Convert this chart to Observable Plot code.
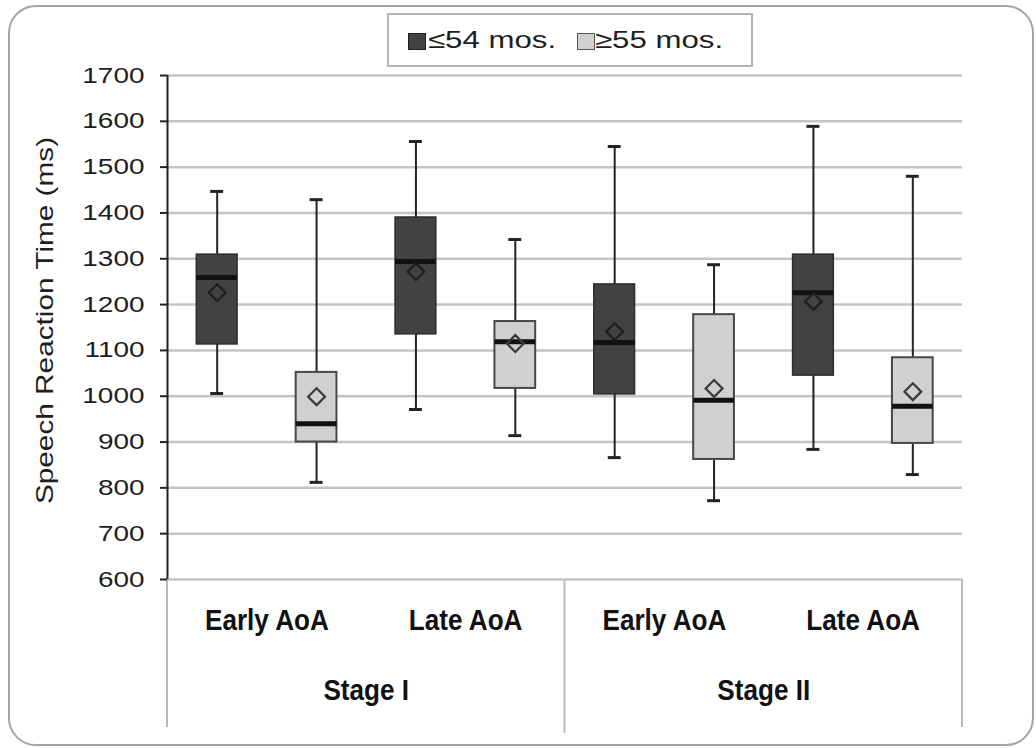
<!DOCTYPE html>
<html>
<head>
<meta charset="utf-8">
<script src="https://cdn.jsdelivr.net/npm/d3@7"></script>
<script src="https://cdn.jsdelivr.net/npm/@observablehq/plot@0.6"></script>
<style>
  html, body { margin: 0; padding: 0; background: #fff; }
  #wrap { position: relative; width: 1036px; height: 748px; overflow: hidden; background: #fff; }
  #wrap svg { position: absolute; left: 0; top: 0; }
  #frame { position: absolute; left: 8px; top: 5px; width: 1026px; height: 741px; box-sizing: border-box;
           border: 2px solid #a4a4a4; border-radius: 28px; background: transparent; pointer-events: none; }
  #legend { position: absolute; left: 387px; top: 13px; width: 366px; height: 54px; box-sizing: border-box;
            border: 2px solid #b4b4b4; background: #fff;
            font-family: "Liberation Sans", Arial, sans-serif; font-size: 24px; color: #1e1e1e; }
  #legend .sw { position: absolute; top: 18px; width: 18px; height: 17px; box-sizing: border-box; }
  #legend .lb { position: absolute; top: 0; height: 50px; line-height: 50px; white-space: nowrap;
                transform: scaleX(1.3); transform-origin: 0 50%; }
</style>
</head>
<body>
<div id="wrap"></div>
<script>
// ---- data ----
const stages = ["Stage I", "Stage II"];
const aoaLevels = ["Early AoA", "Late AoA"];
const groups = ["≤54 mos.", "≥55 mos."];
const yTitle = "Speech Reaction Time (ms)";
const yTicks = [600, 700, 800, 900, 1000, 1100, 1200, 1300, 1400, 1500, 1600, 1700];

// order: Stage I Early (≤54, ≥55), Stage I Late (≤54, ≥55), Stage II Early (...), Stage II Late (...)
const whiskerMax = [1447, 1429, 1556, 1342, 1545, 1287, 1589, 1480];
const q3Values   = [1309, 1052, 1390, 1163, 1244, 1178, 1309, 1084];
const medians    = [1259,  940, 1294, 1119, 1117,  991, 1226,  978];
const means      = [1226,  999, 1272, 1115, 1141, 1017, 1207, 1010];
const q1Values   = [1113,  900, 1135, 1017, 1004,  862, 1045,  897];
const whiskerMin = [1006,  812,  971,  914,  866,  772,  884,  829];

// ---- build table ----
const boxes = [];
stages.forEach((s, si) => aoaLevels.forEach((a, ai) => groups.forEach((g, gi) => {
  const i = boxes.length;
  boxes.push({i, stage: s, aoa: a, group: g, gi,
    lo: whiskerMin[i], q1: q1Values[i], med: medians[i], q3: q3Values[i], hi: whiskerMax[i], mean: means[i]});
})));
const aoaRows = [];
stages.forEach((s, si) => aoaLevels.forEach((a, ai) => aoaRows.push({pos: si * 4 + ai * 2 + 1, label: a})));
const stageRows = stages.map((s, si) => ({pos: si * 4 + 2, label: s}));

const center = d => d.i + 0.5;
const boxL = d => d.i + 0.295, boxR = d => d.i + 0.705;
const capL = d => d.i + 0.435, capR = d => d.i + 0.565;
const dark = boxes.filter(d => d.gi === 0), light = boxes.filter(d => d.gi === 1);
const catFont = "'Liberation Sans', Arial, sans-serif";

const chart = Plot.plot({
  width: 1036, height: 748,
  marginLeft: 167, marginRight: 74, marginTop: 75, marginBottom: 169,
  x: {domain: [0, 8], axis: null},
  y: {domain: [600, 1700], axis: null},
  style: {fontFamily: "'Liberation Sans', Arial, sans-serif", background: "transparent", color: "#1e1e1e", overflow: "visible"},
  marks: [
    Plot.ruleY(yTicks, {stroke: "#c4c4c4", strokeWidth: 2.5}),
    Plot.ruleX(boxes, {x: center, y1: "lo", y2: "hi", stroke: "#232323", strokeWidth: 2}),
    Plot.ruleY(boxes, {y: "hi", x1: capL, x2: capR, stroke: "#232323", strokeWidth: 3}),
    Plot.ruleY(boxes, {y: "lo", x1: capL, x2: capR, stroke: "#232323", strokeWidth: 3}),
    Plot.rect(dark, {x1: boxL, x2: boxR, y1: "q1", y2: "q3", fill: "#424242", stroke: "#2c2c2c", strokeWidth: 1.5}),
    Plot.rect(light, {x1: boxL, x2: boxR, y1: "q1", y2: "q3", fill: "#d0d0d0", stroke: "#474747", strokeWidth: 2}),
    Plot.ruleY(boxes, {y: "med", x1: boxL, x2: boxR, stroke: "#111", strokeWidth: 5}),
    Plot.dot(dark, {x: center, y: "mean", symbol: "diamond2", r: 7.6, stroke: "#1f1f1f", strokeWidth: 2.2, fill: "none"}),
    Plot.dot(light, {x: center, y: "mean", symbol: "diamond2", r: 7.6, stroke: "#3a3a3a", strokeWidth: 2.2, fill: "none"}),
    Plot.ruleX([0], {stroke: "#222", strokeWidth: 2}),
    Plot.axisY({ticks: yTicks, tickFormat: d => String(d), tickSize: 7, tickPadding: 16, fontSize: 22,
      stroke: "#222", strokeWidth: 2, fill: "#1e1e1e"}),
    Plot.text([yTitle], {frameAnchor: "left", textAnchor: "middle", rotate: -90, dx: -122, dy: -7, fontSize: 24, fill: "#1e1e1e"}),
    Plot.text(aoaRows, {x: "pos", text: "label", frameAnchor: "bottom", dy: 41, lineAnchor: "middle",
      fontFamily: catFont, fontWeight: "bold", fontSize: 30, fill: "#111"}),
    Plot.text(stageRows, {x: "pos", text: "label", frameAnchor: "bottom", dy: 111, lineAnchor: "middle",
      fontFamily: catFont, fontWeight: "bold", fontSize: 30, fill: "#111"})
  ]
});

// category separators below the frame (positions from the chart's own scales)
const xs = chart.scale("x"), ys = chart.scale("y");
const base = ys.apply(600);
const sepDepth = {0: 148, 4: 154, 8: 148};
const sep = d3.select(chart).insert("g", ":first-child").attr("aria-label", "separators");
[0, 4, 8].forEach(v => {
  sep.append("line")
    .attr("x1", xs.apply(v)).attr("x2", xs.apply(v))
    .attr("y1", base).attr("y2", base + sepDepth[v])
    .attr("stroke", "#b8b8b8").attr("stroke-width", 2);
});

const wrap = document.getElementById("wrap");
wrap.appendChild(chart);

// the reference's text is horizontally widened / narrowed: reproduce with textLength
function stretch(sel, factor) {
  sel.each(function () {
    const w = this.getComputedTextLength();
    this.setAttribute("textLength", (w * factor).toFixed(1));
    this.setAttribute("lengthAdjust", "spacingAndGlyphs");
  });
}
const svgSel = d3.select(chart);
stretch(svgSel.selectAll('g[aria-label="y-axis tick label"] text'), 1.27);
stretch(svgSel.selectAll("text").filter(function () { return this.textContent === yTitle; }), 1.24);
stretch(svgSel.selectAll("text").filter(function () {
  return aoaLevels.includes(this.textContent) || stages.includes(this.textContent);
}), 0.87);

const frame = document.createElement("div");
frame.id = "frame";
wrap.appendChild(frame);

// legend
const legend = document.createElement("div");
legend.id = "legend";
const swatchStyles = [
  {left: 19, fill: "#424242", stroke: "#1f1f1f"},
  {left: 188, fill: "#d0d0d0", stroke: "#555"}
];
const labelLefts = [39, 206];
groups.forEach((g, gi) => {
  const sw = document.createElement("div");
  sw.className = "sw";
  sw.style.left = swatchStyles[gi].left + "px";
  sw.style.background = swatchStyles[gi].fill;
  sw.style.border = "1.5px solid " + swatchStyles[gi].stroke;
  legend.appendChild(sw);
  const lb = document.createElement("div");
  lb.className = "lb";
  lb.style.left = labelLefts[gi] + "px";
  lb.textContent = g;
  legend.appendChild(lb);
});
wrap.appendChild(legend);
</script>
</body>
</html>
